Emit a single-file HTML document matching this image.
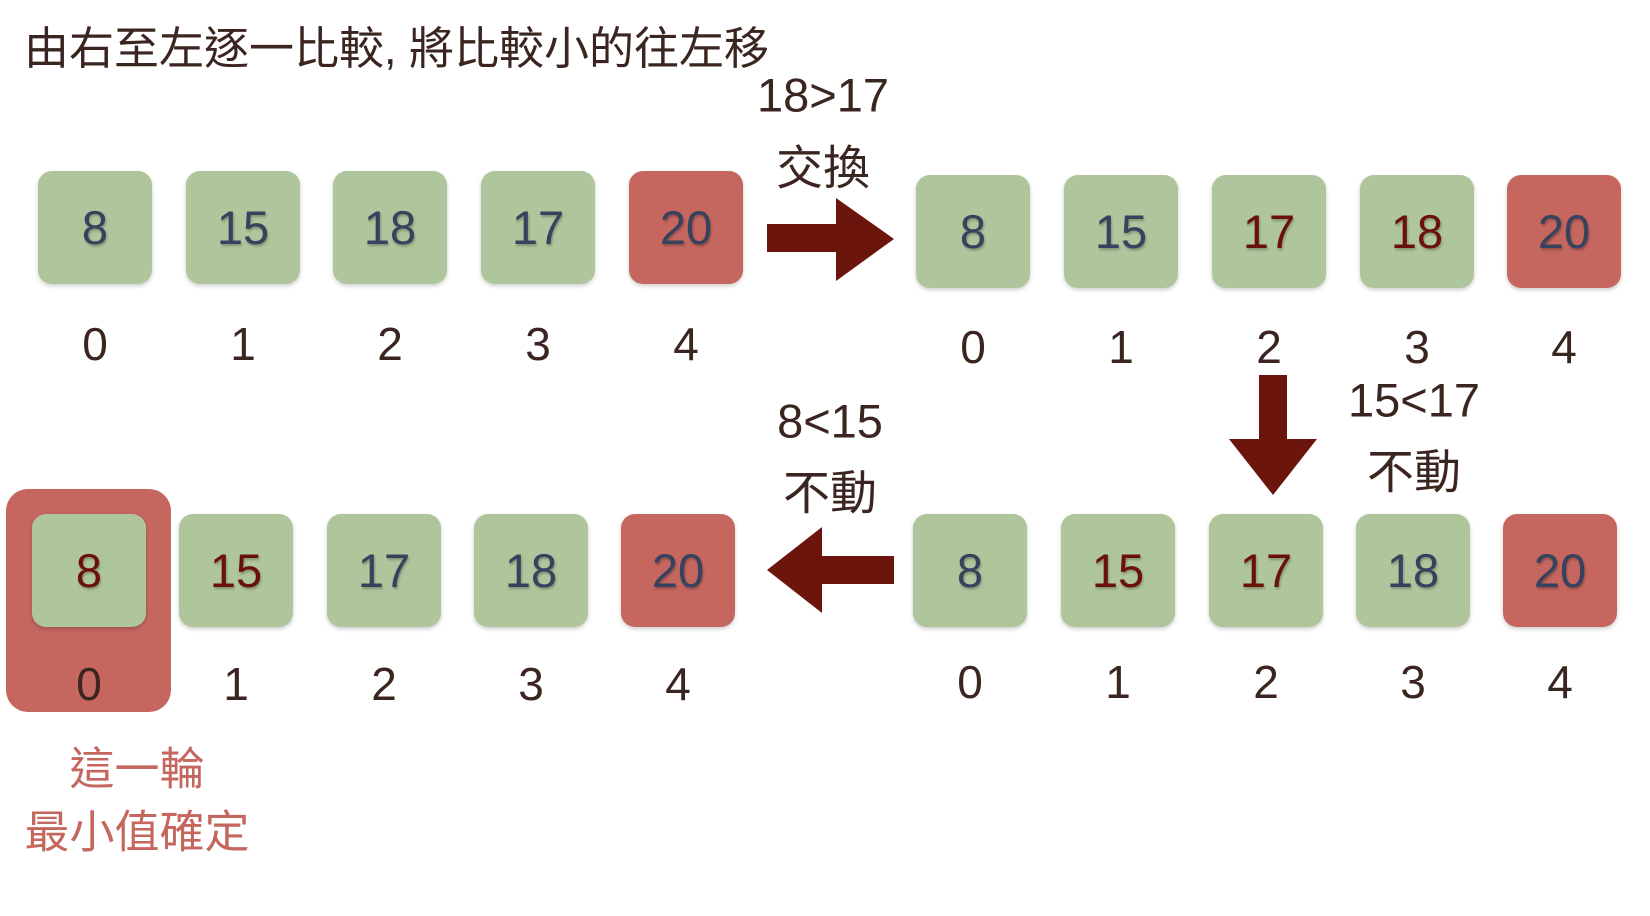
<!DOCTYPE html>
<html><head><meta charset="utf-8"><style>
body{margin:0;width:1650px;height:916px;background:#fff;position:relative;overflow:hidden;font-family:"Liberation Sans","Noto Sans CJK TC",sans-serif;color:#3b2520}
.b{position:absolute;width:114px;height:113px;border-radius:14px;background:#afc59b;box-shadow:0 2px 4px rgba(0,0,0,.2);display:flex;align-items:center;justify-content:center;font-size:47px;color:#36425e;text-shadow:1px 2px 2px rgba(0,0,0,.25)}
.r{background:#c5675f}
.d{color:#6b1208}
.t{position:absolute;transform:translate(-50%,-50%);white-space:nowrap;font-size:46px}
.l{position:absolute;transform:translate(-50%,-50%);white-space:nowrap;font-size:47px}
</style></head><body>
<div style="position:absolute;left:24px;top:12px;font-size:45px">由右至左逐一比較, 將比較小的往左移</div>

<div class="l" style="left:823px;top:95px">18&gt;17</div>
<div class="l" style="left:823px;top:164px">交換</div>
<svg style="position:absolute;left:0;top:0" width="1650" height="916">
<polygon points="767,224 836,224 836,198 894,239 836,281 836,252 767,252" fill="#6b150c"/>
<polygon points="1259,375 1287,375 1287,439 1317,439 1273,495 1229,439 1259,439" fill="#6b150c"/>
<polygon points="894,556 822,556 822,527 767,570 822,613 822,584 894,584" fill="#6b150c"/>
<rect x="6" y="489" width="165" height="223" rx="22" fill="#c5675f"/>
</svg>

<div class="b" style="left:38px;top:171px">8</div>
<div class="b" style="left:186px;top:171px">15</div>
<div class="b" style="left:333px;top:171px">18</div>
<div class="b" style="left:481px;top:171px">17</div>
<div class="b r" style="left:629px;top:171px">20</div>
<div class="t" style="left:95px;top:344px">0</div>
<div class="t" style="left:243px;top:344px">1</div>
<div class="t" style="left:390px;top:344px">2</div>
<div class="t" style="left:538px;top:344px">3</div>
<div class="t" style="left:686px;top:344px">4</div>

<div class="b" style="left:916px;top:175px">8</div>
<div class="b" style="left:1064px;top:175px">15</div>
<div class="b d" style="left:1212px;top:175px">17</div>
<div class="b d" style="left:1360px;top:175px">18</div>
<div class="b r" style="left:1507px;top:175px">20</div>
<div class="t" style="left:973px;top:347px">0</div>
<div class="t" style="left:1121px;top:347px">1</div>
<div class="t" style="left:1269px;top:347px">2</div>
<div class="t" style="left:1417px;top:347px">3</div>
<div class="t" style="left:1564px;top:347px">4</div>

<div class="l" style="left:1414px;top:400px">15&lt;17</div>
<div class="l" style="left:1414px;top:468px">不動</div>

<div class="b" style="left:913px;top:514px">8</div>
<div class="b d" style="left:1061px;top:514px">15</div>
<div class="b d" style="left:1209px;top:514px">17</div>
<div class="b" style="left:1356px;top:514px">18</div>
<div class="b r" style="left:1503px;top:514px">20</div>
<div class="t" style="left:970px;top:682px">0</div>
<div class="t" style="left:1118px;top:682px">1</div>
<div class="t" style="left:1266px;top:682px">2</div>
<div class="t" style="left:1413px;top:682px">3</div>
<div class="t" style="left:1560px;top:682px">4</div>

<div class="l" style="left:830px;top:421px">8&lt;15</div>
<div class="l" style="left:830px;top:489px">不動</div>

<div class="b d" style="left:32px;top:514px">8</div>
<div class="b d" style="left:179px;top:514px">15</div>
<div class="b" style="left:327px;top:514px">17</div>
<div class="b" style="left:474px;top:514px">18</div>
<div class="b r" style="left:621px;top:514px">20</div>
<div class="t" style="left:89px;top:684px">0</div>
<div class="t" style="left:236px;top:684px">1</div>
<div class="t" style="left:384px;top:684px">2</div>
<div class="t" style="left:531px;top:684px">3</div>
<div class="t" style="left:678px;top:684px">4</div>

<div class="l" style="left:137px;top:765px;color:#c5675f;font-size:45px">這一輪</div>
<div class="l" style="left:137px;top:828px;color:#c5675f;font-size:45px">最小值確定</div>
</body></html>
